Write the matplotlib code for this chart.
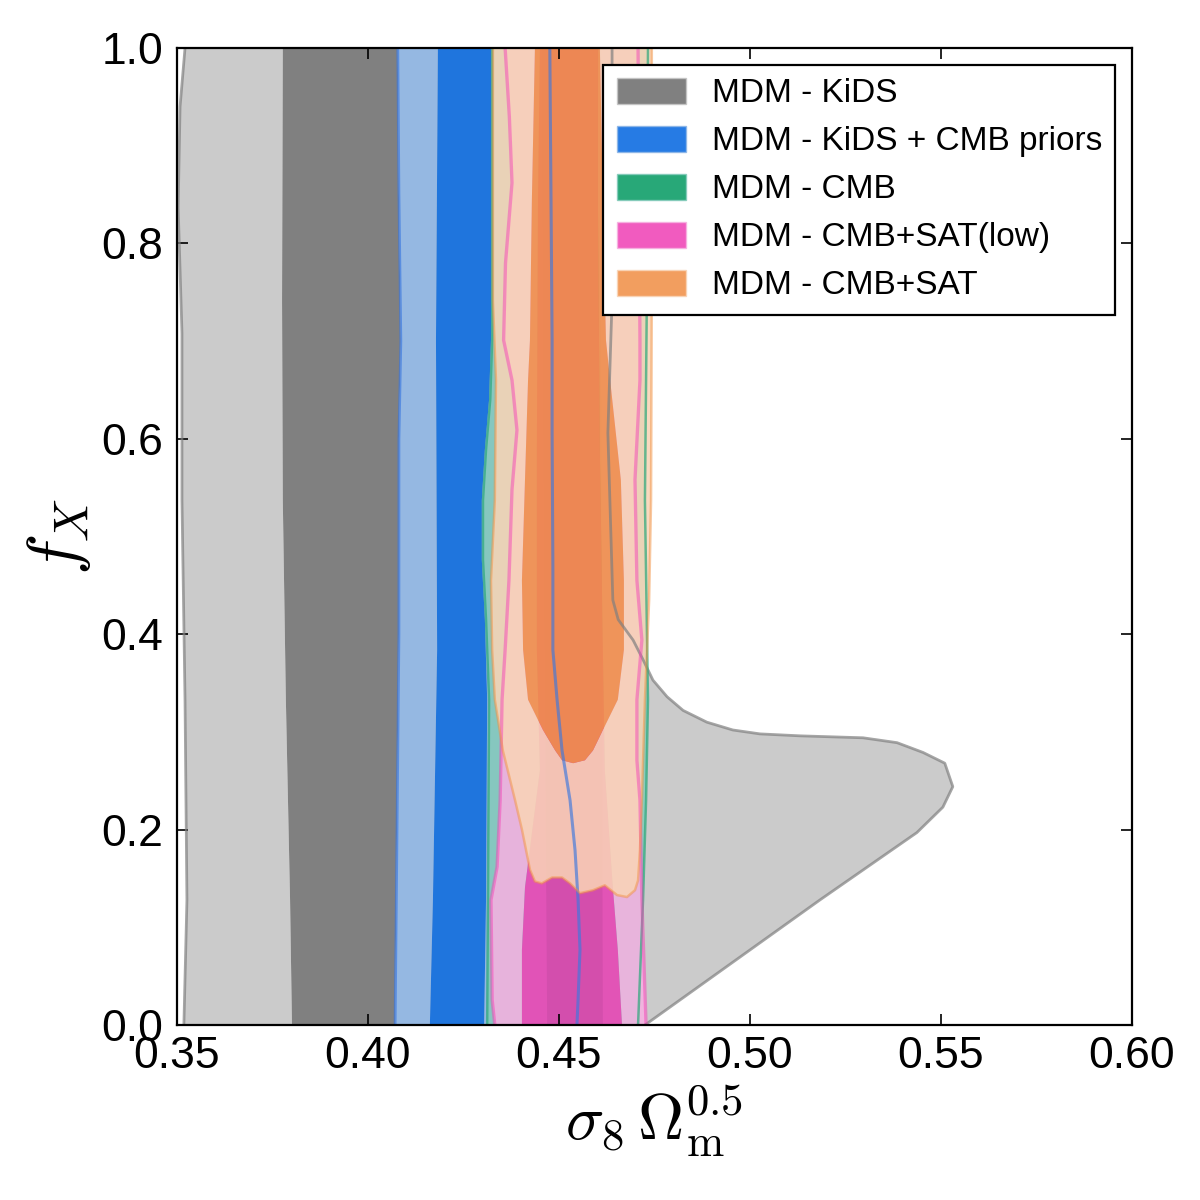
import numpy as np
import matplotlib
matplotlib.use("Agg")
import matplotlib.pyplot as plt
from matplotlib.path import Path
from matplotlib.patches import PathPatch, Patch

# ---- contour boundaries (x = sigma8*Om^0.5, y = f_X) ----
# MDM - KiDS
kids95_left_y = [0.0, 0.128, 0.333, 0.537, 0.708, 0.837, 0.940, 1.0]
kids95_left_x = [0.3518, 0.3526, 0.3521, 0.3513, 0.3513, 0.3503, 0.3508, 0.3521]
kids95_right_y = [0.0, 0.128, 0.197, 0.223, 0.244, 0.268, 0.279, 0.289, 0.294, 0.296, 0.298,
                  0.302, 0.310, 0.322, 0.336, 0.353, 0.374, 0.394, 0.415, 0.435, 0.606, 0.742, 1.0]
kids95_right_x = [0.4725, 0.5183, 0.5437, 0.5505, 0.5531, 0.5510, 0.5453, 0.5385, 0.5296, 0.5131, 0.5026,
                  0.4955, 0.4887, 0.4825, 0.4783, 0.4746, 0.4720, 0.4694, 0.4655, 0.4641, 0.4628, 0.4639, 0.4639]
kids68_left_y = [0.0, 0.128, 0.333, 0.537, 0.742, 1.0]
kids68_left_x = [0.3801, 0.3796, 0.3785, 0.3777, 0.3775, 0.3777]

# MDM - KiDS + CMB priors
kcmb95_left_y = [0.0, 0.2, 0.4, 0.6, 0.7, 0.85, 1.0]
kcmb95_left_x = [0.4071, 0.4076, 0.4081, 0.4081, 0.4086, 0.4081, 0.4078]
kcmb95_right_y = [0.0, 0.026, 0.077, 0.128, 0.179, 0.230, 0.281, 0.333, 0.384, 0.470, 0.606, 0.701, 1.0]
kcmb95_right_x = [0.4547, 0.4550, 0.4555, 0.4550, 0.4542, 0.4529, 0.4508, 0.4495, 0.4484, 0.4484, 0.4482, 0.4482, 0.4476]
kcmb68_left_y = [0.0, 0.128, 0.384, 0.701, 1.0]
kcmb68_left_x = [0.4162, 0.4170, 0.4181, 0.4178, 0.4183]
kcmb68_right_y = [0.0, 0.128, 0.333, 0.415, 0.476, 0.537, 0.589, 0.640, 0.701, 1.0]
kcmb68_right_x = [0.4304, 0.4309, 0.4312, 0.4306, 0.4298, 0.4298, 0.4306, 0.4317, 0.4322, 0.4322]

# MDM - CMB
cmb95_left_y = [0.0, 0.128, 0.333, 0.415, 0.476, 0.537, 0.589, 0.640, 0.701, 1.0]
cmb95_left_x = [0.4312, 0.4314, 0.4317, 0.4309, 0.4301, 0.4301, 0.4309, 0.4320, 0.4325, 0.4325]
cmb95_right_y = [0.0, 0.128, 0.230, 0.333, 0.537, 0.742, 1.0]
cmb95_right_x = [0.4707, 0.4720, 0.4728, 0.4733, 0.4725, 0.4730, 0.4733]
cmb68_y = [0.0, 0.5, 1.0]
cmb68_left_x = [0.4469, 0.4460, 0.4455]
cmb68_right_x = [0.4615, 0.4612, 0.4610]

# MDM - CMB+SAT(low)
low95_left_y = [0.0, 0.026, 0.128, 0.162, 0.230, 0.333, 0.384, 0.455, 0.548, 0.609, 0.660, 0.701, 0.780, 0.862, 0.930, 1.0]
low95_left_x = [0.4332, 0.4325, 0.4322, 0.4338, 0.4346, 0.4351, 0.4359, 0.4369, 0.4377, 0.4390, 0.4377, 0.4355, 0.4360, 0.4377, 0.4370, 0.4359]
low95_right_y = [0.0, 0.128, 0.230, 0.271, 0.333, 0.394, 0.455, 0.558, 0.660, 0.701, 1.0]
low95_right_x = [0.4728, 0.4717, 0.4712, 0.4704, 0.4704, 0.4717, 0.4704, 0.4699, 0.4712, 0.4712, 0.4707]
low68_y = [0.0, 0.077, 0.141, 0.261, 0.384, 0.589, 0.844, 1.0]
low68_left_x = [0.4403, 0.4403, 0.4411, 0.4450, 0.4442, 0.4442, 0.4445, 0.4450]
low68_right_x = [0.4665, 0.4654, 0.4641, 0.4620, 0.4615, 0.4607, 0.4602, 0.4602]

# MDM - CMB+SAT (closed outlines: down the left side, along the bottom, up the right side)
sat95_x = [0.4327, 0.4327, 0.4335, 0.4332, 0.4322, 0.4325, 0.4332, 0.4353, 0.4385, 0.4403, 0.4424, 0.4437,
           0.4455, 0.4482, 0.4508, 0.4529, 0.4555, 0.4589, 0.4620, 0.4652, 0.4678, 0.4699, 0.4707,
           0.4712, 0.4717, 0.4725, 0.4736, 0.4741, 0.4743, 0.4743]
sat95_y = [1.0, 0.742, 0.660, 0.537, 0.455, 0.384, 0.333, 0.281, 0.230, 0.200, 0.159, 0.147,
           0.145, 0.151, 0.151, 0.145, 0.135, 0.138, 0.143, 0.133, 0.131, 0.138, 0.148,
           0.179, 0.230, 0.333, 0.435, 0.537, 0.742, 1.0]
sat68_x = [0.4437, 0.4429, 0.4424, 0.4419, 0.4411, 0.4403, 0.4406, 0.4419, 0.4458, 0.4490, 0.4508,
           0.4537,
           0.4568, 0.4589, 0.4615, 0.4654, 0.4670, 0.4670, 0.4662, 0.4634, 0.4623, 0.4615, 0.4607]
sat68_y = [1.0, 0.844, 0.701, 0.660, 0.558, 0.455, 0.384, 0.333, 0.302, 0.281, 0.271,
           0.268,
           0.271, 0.281, 0.302, 0.333, 0.384, 0.455, 0.558, 0.660, 0.701, 0.844, 1.0]

labels = ["MDM - KiDS", "MDM - KiDS + CMB priors", "MDM - CMB", "MDM - CMB+SAT(low)", "MDM - CMB+SAT"]
colors_95 = ["#c4c4c4", "#8db6e6", "#84caba", "#f6b1e1", "#f9d4b6"]
colors_68 = ["#6d6d6d", "#0568e0", "#089b64", "#f042b6", "#f19047"]
line_colors = ["#808080", "#3b78df", "#2aa87a", "#f445b8", "#f29344"]
x_ticks = [0.35, 0.40, 0.45, 0.50, 0.55, 0.60]
y_ticks = [0.0, 0.2, 0.4, 0.6, 0.8, 1.0]
FILL_ALPHA = 0.87

plt.rcParams["font.family"] = ["Liberation Sans", "DejaVu Sans"]
plt.rcParams["mathtext.fontset"] = "cm"


def ring(left_x, left_y, right_x, right_y):
    # up the left edge, back down the right edge
    xs = list(left_x) + list(right_x)[::-1]
    ys = list(left_y) + list(right_y)[::-1]
    return np.column_stack([xs, ys])


def ring_path(verts):
    verts = np.asarray(verts, dtype=float)
    codes = [Path.MOVETO] + [Path.LINETO] * (len(verts) - 1) + [Path.CLOSEPOLY]
    return Path(np.vstack([verts, verts[:1]]), codes)


def add_contour(ax, outer, inner, c95, c68):
    # 95% band with the 68% region cut out, then the 68% region
    band = Path.make_compound_path(ring_path(outer), ring_path(inner[::-1]))
    ax.add_patch(PathPatch(band, facecolor=c95, edgecolor="none", alpha=FILL_ALPHA, zorder=1))
    ax.add_patch(PathPatch(ring_path(inner), facecolor=c68, edgecolor="none", alpha=FILL_ALPHA, zorder=1))


fig = plt.figure(figsize=(12, 12), dpi=100)
ax = fig.add_axes([0.1475, 0.1458, 0.7958, 0.8142])

kids95 = ring(kids95_left_x, kids95_left_y, kids95_right_x, kids95_right_y)
kids68 = ring(kids68_left_x, kids68_left_y, kcmb95_left_x, kcmb95_left_y)
kcmb95 = ring(kcmb95_left_x, kcmb95_left_y, kcmb95_right_x, kcmb95_right_y)
kcmb68 = ring(kcmb68_left_x, kcmb68_left_y, kcmb68_right_x, kcmb68_right_y)
cmb95 = ring(cmb95_left_x, cmb95_left_y, cmb95_right_x, cmb95_right_y)
cmb68 = ring(cmb68_left_x, cmb68_y, cmb68_right_x, cmb68_y)
low95 = ring(low95_left_x, low95_left_y, low95_right_x, low95_right_y)
low68 = ring(low68_left_x, low68_y, low68_right_x, low68_y)
sat95 = np.column_stack([sat95_x, sat95_y])
sat68 = np.column_stack([sat68_x, sat68_y])

add_contour(ax, kids95, kids68, colors_95[0], colors_68[0])
add_contour(ax, kcmb95, kcmb68, colors_95[1], colors_68[1])
add_contour(ax, cmb95, cmb68, colors_95[2], colors_68[2])
add_contour(ax, low95, low68, colors_95[3], colors_68[3])
add_contour(ax, sat95, sat68, colors_95[4], colors_68[4])

# outer contour lines
kw = dict(solid_joinstyle="round", solid_capstyle="round", zorder=2)
ax.plot(kids95_left_x, kids95_left_y, color=line_colors[0], alpha=0.7, lw=2, **kw)
ax.plot(kids95_right_x, kids95_right_y, color=line_colors[0], alpha=0.7, lw=2, **kw)
ax.plot(kcmb95_left_x, kcmb95_left_y, color=line_colors[1], alpha=0.65, lw=2, **kw)
ax.plot(kcmb95_right_x, kcmb95_right_y, color=line_colors[1], alpha=0.65, lw=2.2, **kw)
ax.plot(cmb95_left_x, cmb95_left_y, color=line_colors[2], alpha=0.7, lw=1.8, **kw)
ax.plot(cmb95_right_x, cmb95_right_y, color=line_colors[2], alpha=0.7, lw=1.8, **kw)
ax.plot(low95_left_x, low95_left_y, color=line_colors[3], alpha=0.5, lw=2.4, **kw)
ax.plot(low95_right_x, low95_right_y, color=line_colors[3], alpha=0.5, lw=2.4, **kw)
ax.plot(sat95_x, sat95_y, color=line_colors[4], alpha=0.5, lw=1.8, **kw)

ax.set_xlim(0.35, 0.60)
ax.set_ylim(0.0, 1.0)
ax.set_xticks(x_ticks)
ax.set_xticklabels(["%.2f" % t for t in x_ticks])
ax.set_yticks(y_ticks)
ax.set_yticklabels(["%.1f" % t for t in y_ticks])
ax.tick_params(direction="in", length=8, width=1.2, labelsize=32, top=True, right=True)
ax.tick_params(axis="x", pad=8)
ax.tick_params(axis="y", pad=10)
for s in ax.spines.values():
    s.set_linewidth(1.6)
    s.set_zorder(5)

ax.set_xlabel(r"$\sigma_8\,\Omega_{\rm m}^{0.5}$", fontsize=46, labelpad=4)
ax.set_ylabel(r"$f_X$", fontsize=50, labelpad=6)

handles = [Patch(facecolor=colors_68[i], edgecolor=colors_95[i], alpha=FILL_ALPHA, lw=1)
           for i in range(len(labels))]
leg = ax.legend(handles, labels, loc="upper right", fontsize=24, fancybox=False, framealpha=1,
                edgecolor="black", borderaxespad=0.5, handlelength=2.07, handleheight=0.8,
                handletextpad=0.78, labelspacing=0.5, borderpad=0.4)
leg.get_frame().set_linewidth(1.6)
leg.set_zorder(10)

fig.savefig("out.png", dpi=100)
